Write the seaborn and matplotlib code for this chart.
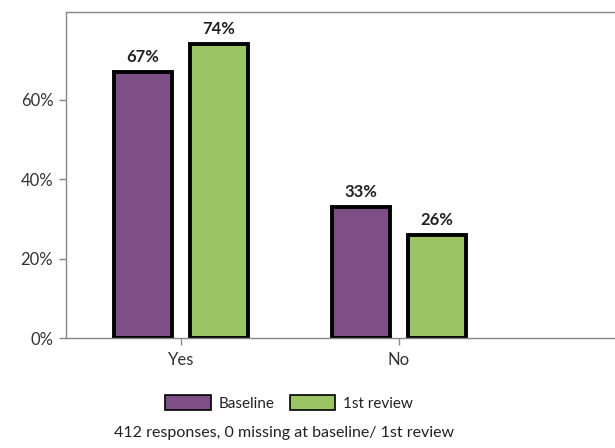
import matplotlib
matplotlib.use("Agg")
import matplotlib.pyplot as plt
import seaborn as sns
import pandas as pd
from matplotlib.patches import Patch

categories = ["Yes", "No"]
series = ["Baseline", "1st review"]
baseline = [67, 33]
first_review = [74, 26]
yticks = [0, 20, 40, 60]
ytick_labels = ["0%", "20%", "40%", "60%"]
caption = "412 responses, 0 missing at baseline/ 1st review"
colors = ["#7E4E86", "#9BC464"]

rows = []
for c, b, f in zip(categories, baseline, first_review):
    rows.append({"cat": c, "series": series[0], "val": b})
    rows.append({"cat": c, "series": series[1], "val": f})
df = pd.DataFrame(rows)

sns.set_style("white")
plt.rcParams["font.family"] = ["Lato", "DejaVu Sans"]

fig = plt.figure(figsize=(6.15, 4.48), dpi=100)
ax_w = 0.92
ax = fig.add_axes([0.107, 0.2455, ax_w, 0.7275])

sns.barplot(data=df, x="cat", y="val", hue="series", order=categories,
            hue_order=series, palette=colors, width=0.7, gap=0.24,
            edgecolor="black", linewidth=2.8, saturation=1, ax=ax, legend=False)

for cont in ax.containers:
    labels = [f"{int(round(v))}%" for v in cont.datavalues]
    ax.bar_label(cont, labels=labels, padding=5, fontsize=12,
                 fontweight="bold", color="#222222")

ax.set_ylim(0, 82)
span = ax_w * 615 / 218.0
ax.set_xlim(-0.527, -0.527 + span)
ax.set_yticks(yticks)
ax.set_yticklabels(ytick_labels)
ax.set_xlabel("")
ax.set_ylabel("")
ax.tick_params(axis="both", labelsize=12, colors="#333333", length=5,
               width=1, color="#888888", left=True, bottom=True)
ax.tick_params(axis="x", pad=5)
ax.tick_params(axis="y", pad=4)
for s in ["left", "bottom", "top", "right"]:
    ax.spines[s].set_color("#888888")
    ax.spines[s].set_linewidth(1)

handles = [Patch(facecolor=colors[i], edgecolor="black", linewidth=1.2,
                 label=series[i]) for i in range(2)]
fig.legend(handles=handles, loc="center", bbox_to_anchor=(289 / 615, 1 - 403 / 448),
           ncol=2, frameon=False, fontsize=11, handlelength=3.0,
           handleheight=1.1, handletextpad=0.5, columnspacing=1.0,
           labelcolor="#222222")
fig.text(284 / 615, 1 - 433 / 448, caption, ha="center", va="center",
         fontsize=11.5, color="#222222")

fig.savefig("out.png", dpi=100)
